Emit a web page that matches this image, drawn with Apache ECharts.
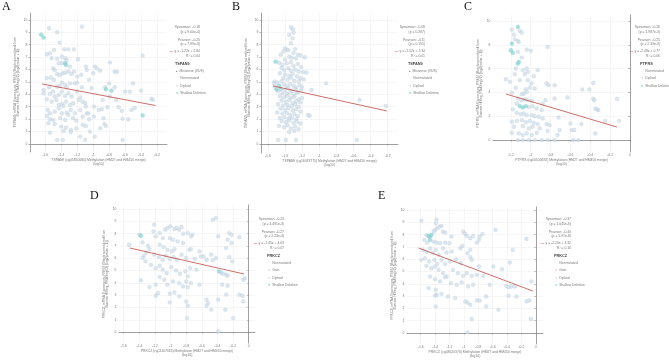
<!DOCTYPE html>
<html>
<head>
<meta charset="utf-8">
<script src="https://cdn.jsdelivr.net/npm/echarts@6/dist/echarts.min.js"></script>
<style>
  html, body { margin: 0; padding: 0; background: #fff; }
  #chart { width: 669px; height: 360px; }
</style>
</head>
<body>
<div id="chart"></div>
<script>
// ---- data ----
const xTicks16 = [-1.6, -1.4, -1.2, -1, -0.8, -0.6, -0.4, -0.2];
const xTicks16z = [-1.6, -1.4, -1.2, -1, -0.8, -0.6, -0.4, -0.2, 0];
const xTicks12 = [-1.2, -1, -0.8, -0.6, -0.4, -0.2, 0];
const yTicks1 = [0, 1, 2, 3, 4, 5, 6, 7, 8, 9, 10];
const yTicks2 = [0, 2, 4, 6, 8, 10];

const pointsA = [[-1.55,9.33],[-1.45,9.01],[-1.14,9.46],[-1.42,8.17],[-1.54,7.31],[-1.58,7.23],[-1.52,6.91],[-1.49,7.58],[-1.45,6.88],[-1.39,7.04],[-1.36,7.63],[-1.31,7.63],[-1.24,7.63],[-1.50,6.10],[-1.48,5.97],[-1.43,6.51],[-1.39,6.51],[-1.35,6.91],[-1.33,6.77],[-1.29,6.24],[-1.24,5.83],[-1.19,6.83],[-1.58,5.30],[-1.53,5.35],[-1.49,5.16],[-1.45,5.65],[-1.42,5.56],[-1.38,5.70],[-1.35,5.75],[-1.31,5.83],[-1.27,5.65],[-1.20,5.43],[-1.15,5.59],[-1.09,6.24],[-1.08,5.97],[-1.62,4.35],[-1.55,4.57],[-1.50,4.22],[-1.45,4.62],[-1.42,4.68],[-1.39,4.95],[-1.35,4.76],[-1.33,4.57],[-1.29,4.89],[-1.23,4.89],[-1.20,4.95],[-1.14,4.57],[-1.54,4.03],[-1.48,3.82],[-1.43,3.95],[-1.39,4.22],[-1.35,3.87],[-1.31,4.09],[-1.27,3.82],[-1.20,4.22],[-1.16,3.76],[-1.62,4.09],[-1.58,3.60],[-1.52,3.41],[-1.46,3.55],[-1.43,3.15],[-1.39,3.23],[-1.37,3.06],[-1.34,3.41],[-1.29,3.15],[-1.25,3.28],[-1.18,3.55],[-1.13,3.41],[-1.10,3.28],[-1.57,2.74],[-1.54,2.47],[-1.48,2.61],[-1.43,2.88],[-1.39,2.47],[-1.33,2.53],[-1.28,2.74],[-1.23,2.47],[-1.16,2.74],[-1.09,3.01],[-1.58,2.26],[-1.54,1.99],[-1.50,1.94],[-1.41,2.07],[-1.35,1.94],[-1.31,2.34],[-1.25,2.07],[-1.21,1.88],[-1.13,2.20],[-1.08,2.47],[-1.56,1.67],[-1.48,1.61],[-1.40,1.40],[-1.34,1.32],[-1.28,1.13],[-1.21,1.26],[-1.13,1.53],[-1.54,0.91],[-1.37,1.05],[-1.28,0.97],[-1.45,0.32],[-1.38,0.32],[-1.10,0.32],[-0.63,0.32],[-0.98,6.24],[-0.95,6.10],[-0.91,5.91],[-1.00,5.70],[-0.79,6.56],[-0.73,5.83],[-0.70,5.83],[-0.80,4.89],[-0.85,4.57],[-0.73,4.57],[-0.50,4.89],[-0.60,4.22],[-0.40,4.30],[-0.38,7.12],[-0.27,3.63],[-0.25,3.55],[-0.79,3.82],[-0.88,3.55],[-0.93,2.74],[-0.99,3.01],[-0.89,2.80],[-0.82,2.96],[-0.68,2.96],[-0.64,2.66],[-0.63,2.04],[-0.56,1.99],[-0.52,2.74],[-0.48,2.90],[-0.87,2.07],[-0.86,1.61],[-0.91,1.26],[-0.99,2.20],[-1.06,2.47],[-1.05,1.99],[-1.09,1.45],[-0.84,1.45],[-0.98,0.59],[-1.04,0.99],[-1.16,0.59],[-0.71,3.55],[-0.54,4.22],[-1.02,4.49],[-1.05,5.16]];
const shallowA = [[-1.65,8.82],[-1.62,8.58],[-1.35,6.51],[-1.34,6.37],[-0.84,4.41],[-0.77,4.30],[-0.38,2.31]];
const regA = [[-1.64,4.84],[-0.22,3.10]];

const pointsB = [[-1.33,9.41],[-1.31,9.25],[-1.30,8.98],[-1.35,8.79],[-1.31,8.52],[-1.33,8.12],[-1.40,7.71],[-1.38,7.60],[-1.42,7.45],[-1.36,7.55],[-1.28,7.65],[-1.30,7.35],[-1.25,7.20],[-1.22,7.15],[-1.45,7.20],[-1.35,7.05],[-1.32,6.95],[-1.27,6.90],[-1.17,6.99],[-1.40,6.80],[-1.47,6.55],[-1.43,6.40],[-1.38,6.50],[-1.33,6.60],[-1.30,6.30],[-1.25,6.45],[-1.21,6.20],[-1.44,6.15],[-1.36,6.10],[-1.41,5.95],[-1.33,5.90],[-1.28,6.00],[-1.24,5.85],[-1.19,5.80],[-1.46,5.70],[-1.40,5.60],[-1.35,5.50],[-1.31,5.65],[-1.26,5.45],[-1.22,5.30],[-1.15,5.75],[-1.42,5.30],[-1.37,5.20],[-1.33,5.35],[-1.29,5.10],[-1.24,5.05],[-1.18,5.20],[-1.52,5.03],[-1.49,4.95],[-1.44,5.05],[-1.41,4.80],[-1.38,4.65],[-1.34,4.85],[-1.30,4.70],[-1.27,4.55],[-1.23,4.75],[-1.20,4.60],[-1.40,4.35],[-1.36,4.50],[-1.32,4.30],[-1.28,4.40],[-1.25,4.20],[-1.21,4.35],[-1.48,4.25],[-1.43,4.10],[-1.38,4.05],[-1.34,4.20],[-1.30,4.00],[-1.26,4.10],[-1.09,4.35],[-1.46,3.85],[-1.41,3.75],[-1.37,3.90],[-1.33,3.70],[-1.29,3.80],[-1.24,3.60],[-1.20,3.70],[-1.44,3.50],[-1.39,3.40],[-1.35,3.55],[-1.31,3.30],[-1.27,3.45],[-1.22,3.35],[-1.48,3.20],[-1.42,3.10],[-1.37,3.15],[-1.32,3.05],[-1.28,3.20],[-1.24,3.00],[-1.45,2.85],[-1.40,2.75],[-1.36,2.90],[-1.31,2.70],[-1.27,2.80],[-1.22,2.60],[-1.49,2.55],[-1.43,2.45],[-1.38,2.50],[-1.34,2.35],[-1.29,2.40],[-1.25,2.25],[-1.13,2.34],[-1.11,2.26],[-1.41,2.15],[-1.36,2.05],[-1.32,2.10],[-1.27,2.00],[-1.46,2.10],[-1.44,1.85],[-1.39,1.75],[-1.35,1.90],[-1.30,1.70],[-1.26,1.80],[-1.22,1.65],[-1.47,1.45],[-1.41,1.35],[-1.37,1.50],[-1.33,1.25],[-1.28,1.40],[-1.24,1.20],[-1.35,0.95],[-1.29,1.05],[-1.48,0.32],[-1.39,0.32],[-1.27,0.32],[-0.56,0.32],[-0.92,4.89],[-0.53,3.55],[-0.22,3.06],[-1.53,4.90],[-1.52,4.60]];
const shallowB = [[-1.51,6.64],[-1.47,4.70],[-1.45,4.45],[-1.50,4.40]];
const regB = [[-1.54,4.68],[-0.21,2.66]];

const pointsC = [[-1.19,9.27],[-1.11,9.16],[-1.09,9.02],[-1.17,8.85],[-1.16,8.46],[-1.13,8.32],[-1.12,8.24],[-1.13,7.40],[-1.04,7.60],[-1.00,7.49],[-0.83,7.82],[-1.09,6.93],[-1.15,6.01],[-1.08,5.87],[-1.04,6.01],[-1.03,5.73],[-0.93,5.87],[-1.16,5.53],[-1.06,5.53],[-0.97,5.36],[-1.25,5.11],[-1.21,4.89],[-1.11,5.03],[-1.03,5.03],[-0.99,4.75],[-0.84,4.75],[-0.82,4.61],[-0.76,4.61],[-0.37,4.80],[-1.15,4.39],[-1.05,4.25],[-1.01,4.41],[-0.96,4.33],[-1.07,3.91],[-1.04,4.05],[-1.19,3.97],[-1.09,3.85],[-0.48,4.25],[-0.41,4.25],[-0.63,3.58],[-0.13,3.46],[-0.76,3.49],[-0.85,3.35],[-0.37,3.46],[-0.36,3.35],[-0.35,2.63],[-0.32,2.51],[-0.33,2.57],[-0.88,3.07],[-1.13,3.49],[-1.09,3.35],[-1.06,3.41],[-1.03,3.35],[-0.99,3.30],[-1.14,3.07],[-1.02,2.79],[-0.98,2.85],[-0.94,2.65],[-1.18,2.57],[-0.89,2.51],[-1.14,2.29],[-1.10,2.18],[-1.07,2.23],[-1.04,2.09],[-0.99,2.09],[-0.96,2.01],[-0.92,1.96],[-0.88,1.82],[-1.19,1.54],[-1.14,1.62],[-1.09,1.68],[-1.05,1.51],[-1.01,1.62],[-0.97,1.45],[-0.93,1.34],[-1.17,1.12],[-1.08,1.17],[-1.02,0.98],[-0.98,1.12],[-0.91,0.98],[-1.19,0.61],[-1.12,0.56],[-1.08,0.42],[-1.04,0.56],[-0.99,0.42],[-0.94,0.61],[-1.13,0],[-1.08,0],[-1.02,0],[-0.96,0],[-0.89,0],[-0.83,0],[-0.76,0],[-0.57,0],[-0.52,0],[-0.81,1.26],[-0.83,0.78],[-0.72,1.90],[-0.60,1.40],[-0.59,0.84],[-0.56,0.84],[-0.49,1.34],[-0.35,0.56],[-0.25,1.62],[-0.11,1.62],[-0.73,0.42],[-0.71,0.84],[-0.84,1.34]];
const shallowC = [[-1.13,9.50],[-1.19,8.10],[-1.20,7.54],[-1.18,7.32],[-1.12,6.56],[-1.13,6.42],[-1.11,2.85],[-1.08,2.74],[-1.05,2.85]];
const regC = [[-1.25,3.87],[-0.13,1.09]];

const pointsD = [[-1.53,7.10],[-1.40,7.91],[-1.36,7.29],[-1.29,7.02],[-1.27,6.75],[-1.31,6.48],[-1.34,6.21],[-1.36,6.02],[-1.32,5.75],[-1.38,4.20],[-1.27,3.66],[-1.21,8.73],[-1.22,8.18],[-1.19,7.78],[-1.14,8.05],[-1.10,7.64],[-1.07,8.32],[-1.04,8.46],[-1.00,8.59],[-0.95,8.37],[-0.92,8.46],[-0.89,8.32],[-0.86,8.54],[-0.84,7.99],[-0.78,8.05],[-0.74,7.78],[-0.72,7.91],[-1.01,7.64],[-0.97,7.51],[-0.91,7.37],[-0.84,7.24],[-1.14,7.10],[-1.09,6.91],[-1.04,6.69],[-0.98,6.56],[-0.95,6.75],[-0.76,6.69],[-0.74,6.75],[-0.63,6.56],[-1.21,6.29],[-1.15,6.10],[-1.10,5.88],[-1.06,6.21],[-1.01,5.94],[-0.96,6.10],[-0.92,5.88],[-0.86,6.29],[-0.80,6.02],[-0.69,5.94],[-0.61,6.15],[-0.54,5.88],[-0.46,5.83],[-1.25,5.47],[-1.19,5.20],[-1.14,5.39],[-1.10,5.07],[-1.05,4.80],[-0.99,5.28],[-0.93,5.01],[-0.88,4.74],[-0.81,4.93],[-0.75,5.20],[-0.67,5.07],[-0.78,4.53],[-1.14,4.47],[-1.08,4.25],[-1.04,3.85],[-0.97,4.12],[-0.89,3.98],[-0.84,3.71],[-0.80,4.12],[-0.74,3.98],[-0.63,3.85],[-1.19,3.85],[-1.16,3.17],[-1.19,2.95],[-1.01,3.12],[-0.95,3.22],[-0.89,2.90],[-1.01,2.41],[-0.78,3.66],[-0.80,2.49],[-0.78,2.14],[-0.79,1.14],[-0.54,2.63],[-0.52,2.36],[-0.54,2.14],[-0.48,1.82],[-0.46,9.13],[-0.42,9.27],[-0.39,7.78],[-0.42,6.02],[-0.35,4.80],[-0.33,4.74],[-0.29,4.66],[-0.27,4.58],[-0.34,3.85],[-0.39,2.63],[-0.29,3.04],[-0.30,1.82],[-0.39,0.05],[-0.27,3.77],[-0.25,8.05],[-0.22,7.91],[-0.27,7.51],[-0.22,7.24],[-0.29,6.83],[-0.25,6.10],[-0.21,5.75],[-0.20,1.14],[-0.12,7.72],[-0.12,3.04],[-0.08,2.95],[-0.07,2.49],[-0.07,4.25],[-0.05,4.39],[-0.58,6.15],[-0.48,6.29]];
const shallowD = [[-1.38,7.83],[-0.38,4.93]];
const regD = [[-1.52,6.83],[-0.06,4.72]];

const pointsE = [[-1.59,9.14],[-1.38,9.24],[-1.39,8.92],[-1.52,7.97],[-1.51,7.35],[-1.42,8.24],[-1.40,8.38],[-1.37,8.51],[-1.34,8.65],[-1.31,8.70],[-1.29,8.24],[-1.26,8.16],[-1.55,7.57],[-1.42,7.43],[-1.38,7.35],[-1.33,7.30],[-1.26,7.35],[-1.20,7.30],[-1.17,7.84],[-1.01,8.24],[-0.98,8.05],[-0.96,7.89],[-0.91,7.70],[-0.87,7.89],[-0.74,8.05],[-0.78,7.84],[-0.79,7.57],[-0.82,7.35],[-0.56,8.38],[-0.13,7.65],[-1.57,6.76],[-1.52,6.62],[-1.47,6.89],[-1.43,6.49],[-1.39,6.76],[-1.35,6.35],[-1.29,6.89],[-1.24,6.54],[-1.17,6.62],[-1.05,6.89],[-1.02,7.08],[-0.91,6.76],[-0.95,6.49],[-0.32,6.76],[-1.59,5.95],[-1.54,6.08],[-1.48,5.81],[-1.41,5.95],[-1.37,5.62],[-1.31,5.95],[-1.26,5.62],[-1.19,5.81],[-1.11,6.00],[-1.04,5.68],[-0.91,6.16],[-0.89,5.95],[-0.79,5.41],[-0.59,5.41],[-0.47,5.19],[-0.36,5.73],[-1.52,5.46],[-1.45,5.27],[-1.40,5.41],[-1.35,5.14],[-1.29,4.86],[-1.24,4.59],[-1.15,5.14],[-1.08,4.86],[-1.01,4.65],[-0.96,4.86],[-0.89,4.65],[-0.82,4.73],[-0.73,4.65],[-1.47,4.59],[-1.40,4.38],[-1.33,4.19],[-1.26,4.54],[-1.18,4.05],[-1.10,3.92],[-1.03,4.11],[-0.94,3.78],[-0.87,3.92],[-0.64,3.92],[-0.41,3.84],[-0.38,3.73],[-0.34,3.78],[-0.29,3.78],[-0.06,4.19],[-1.49,3.65],[-1.39,3.51],[-1.38,3.11],[-1.40,3.03],[-1.31,3.19],[-1.22,2.97],[-1.12,2.84],[-0.98,2.57],[-0.95,2.49],[-0.91,2.30],[-0.82,2.65],[-0.69,2.97],[-0.78,2.65],[-0.69,2.16],[-0.52,1.89],[-0.38,3.03],[-0.27,2.97],[-0.13,2.57],[-0.09,2.65],[-1.39,2.16],[-0.89,1.14],[-0.95,0.05],[-0.07,1.14]];
const shallowE = [[-1.49,7.89],[-1.47,7.84],[-1.45,7.97],[-1.47,7.57]];
const regE = [[-1.63,6.91],[-0.04,3.41]];

const statsA = ['Spearman: -0.18', '(p = 9.00e-4)', 'Pearson: -0.20', '(p = 7.99e-3)', 'y = -1.22x + 2.84', 'R² = 0.04'];
const statsB = ['Spearman: -0.08', '(p = 0.287)', 'Pearson: -0.11', '(p = 0.155)', 'y = -1.52x + 2.34', 'R² = 0.01'];
const statsC = ['Spearman: -0.26', '(p = 1.987e-3)', 'Pearson: -0.25', '(p = 2.33e-3)', 'y = -2.48x + 0.77', 'R² = 0.06'];
const statsD = ['Spearman: -0.23', '(p = 4.491e-3)', 'Pearson: -0.27', '(p = 2.23e-4)', 'y = -1.45x + 4.63', 'R² = 0.07'];
const statsE = ['Spearman: -0.37', '(p = 1.045e-6)', 'Pearson: -0.40', '(p = 5.97e-8)', 'y = -2.20x + 3.32', 'R² = 0.16'];

const itemsTSPAN9 = ['Missense (VUS)', 'Not mutated', 'Diploid', 'Shallow Deletion'];
const itemsPTPRS = ['Not mutated', 'Diploid', 'Shallow Deletion'];
const itemsPRKCZ = ['Not mutated', 'Gain', 'Diploid', 'Shallow Deletion'];

const yNameTSPAN9 = 'TSPAN9, mRNA Expression, RSEM (Batch normalized from\nIllumina HiSeq_RNASeqV2) (log2(value + 1))';
const yNamePTPRS = 'PTPRS, mRNA Expression, RSEM (Batch normalized from\nIllumina HiSeq_RNASeqV2) (log2(value + 1))';
const yNamePRKCZ = 'PRKCZ, mRNA Expression, RSEM (Batch normalized from\nIllumina HiSeq_RNASeqV2) (log2(value + 1))';

// ---- layout ----
const panels = [
  { label: 'A', lx: 2, ly: 1, grid: { left: 30, top: 13, width: 137, height: 139 },
    xr: [-1.79, -0.075], xt: xTicks16, yr: [-0.65, 10.56], yt: yTicks1,
    pts: pointsA, sh: shallowA, reg: regA, stats: statsA, gene: 'TSPAN9', items: itemsTSPAN9,
    xName: 'TSPAN9 (cg05810085) Methylation (HM27 and HM450 merge)\n(log10)', yName: yNameTSPAN9,
    leg: { right: 200, left: 175, top: 27 } },
  { label: 'B', lx: 232, ly: 1, grid: { left: 261, top: 13, width: 137, height: 140 },
    xr: [-1.68, -0.08], xt: xTicks16, yr: [-0.73, 10.56], yt: yTicks1,
    pts: pointsB, sh: shallowB, reg: regB, stats: statsB, gene: 'TSPAN9', items: itemsTSPAN9,
    xName: 'TSPAN9 (cg16033775) Methylation (HM27 and HM450 merge)\n(log10)', yName: yNameTSPAN9,
    leg: { right: 425, left: 408, top: 27 } },
  { label: 'C', lx: 464, ly: 1, grid: { left: 493, top: 15, width: 137, height: 137 },
    xr: [-1.38, 0], xt: xTicks12, yr: [-1.0, 10.5], yt: yTicks2,
    pts: pointsC, sh: shallowC, reg: regC, stats: statsC, gene: 'PTPRS', items: itemsPTPRS,
    xName: 'PTPRS (cg00500692) Methylation (HM27 and HM450 merge)\n(log10)', yName: yNamePTPRS,
    leg: { right: 660, left: 640, top: 27 } },
  { label: 'D', lx: 90, ly: 190, grid: { left: 119, top: 205, width: 136, height: 138 },
    xr: [-1.66, 0.08], xt: xTicks16z, yr: [-0.89, 10.33], yt: yTicks1,
    pts: pointsD, sh: shallowD, reg: regD, stats: statsD, gene: 'PRKCZ', items: itemsPRKCZ,
    xName: 'PRKCZ (cg11107365) Methylation (HM27 and HM450 merge)\n(log10)', yName: yNamePRKCZ,
    leg: { right: 284, left: 267, top: 219 } },
  { label: 'E', lx: 378, ly: 190, grid: { left: 407, top: 207, width: 136, height: 137 },
    xr: [-1.79, 0.10], xt: xTicks16z, yr: [-0.89, 10.24], yt: yTicks1,
    pts: pointsE, sh: shallowE, reg: regE, stats: statsE, gene: 'PRKCZ', items: itemsPRKCZ,
    xName: 'PRKCZ (cg03620376) Methylation (HM27 and HM450 merge)\n(log10)', yName: yNamePRKCZ,
    leg: { right: 571, left: 554, top: 219 } }
];

const FONT = 'Liberation Sans, Arial, sans-serif';
const FS = 3.4;
const TXT = '#7a7a7a';
const symColors = {
  'Missense (VUS)': '#555',
  'Not mutated': 'rgba(255,255,255,0)',
  'Gain': '#f0cccc',
  'Diploid': '#d3dee6',
  'Shallow Deletion': '#8ed3d3'
};

const grids = [], xAxes = [], yAxes = [], series = [], graphics = [];

panels.forEach((p, i) => {
  grids.push(Object.assign({ containLabel: false }, p.grid));
  xAxes.push({
    type: 'value', gridIndex: i, min: p.xr[0], max: p.xr[1],
    name: p.xName, nameLocation: 'middle', nameGap: 6,
    nameTextStyle: { fontSize: FS, color: TXT, fontFamily: FONT, lineHeight: 4 },
    axisLine: { lineStyle: { color: '#8a8a8a', width: 0.8 } },
    axisTick: { customValues: p.xt, length: 1.5, lineStyle: { color: '#8a8a8a', width: 0.6 } },
    axisLabel: { customValues: p.xt, fontSize: FS, color: TXT, margin: 2, fontFamily: FONT,
      formatter: v => String(v) },
    splitLine: { show: true, lineStyle: { color: '#f0f0f0', width: 0.6 } }
  });
  yAxes.push({
    type: 'value', gridIndex: i, min: p.yr[0], max: p.yr[1],
    name: p.yName, nameLocation: 'middle', nameGap: 10, nameRotate: 90,
    nameTextStyle: { fontSize: FS, color: TXT, fontFamily: FONT, lineHeight: 3.5 },
    axisLine: { show: true, lineStyle: { color: '#8a8a8a', width: 0.8 } },
    axisTick: { show: true, customValues: p.yt, length: 1.5, lineStyle: { color: '#8a8a8a', width: 0.6 } },
    axisLabel: { customValues: p.yt, fontSize: FS, color: TXT, margin: 2.5, fontFamily: FONT },
    splitLine: { show: true, lineStyle: { color: '#f0f0f0', width: 0.6 } }
  });
  series.push({
    type: 'scatter', xAxisIndex: i, yAxisIndex: i, data: p.pts, symbolSize: 3.8,
    itemStyle: { color: 'rgba(205,220,231,0.85)', borderColor: 'rgba(180,199,213,0.85)', borderWidth: 0.4 },
    silent: true, animation: false
  });
  series.push({
    type: 'scatter', xAxisIndex: i, yAxisIndex: i, data: p.sh, symbolSize: 3.8,
    itemStyle: { color: 'rgba(142,212,212,0.9)', borderColor: 'rgba(110,195,198,0.9)', borderWidth: 0.4 },
    silent: true, animation: false
  });
  series.push({
    type: 'line', xAxisIndex: i, yAxisIndex: i, data: p.reg, showSymbol: false,
    lineStyle: { color: '#c24a42', width: 0.8 }, silent: true, animation: false
  });

  // panel letter
  graphics.push({ type: 'text', left: p.lx, top: p.ly,
    style: { text: p.label, fontSize: 12, fontFamily: 'Liberation Serif, Times New Roman, serif', fill: '#111' } });

  // stats block
  const off = [0, 5, 13, 17, 24, 29];
  p.stats.forEach((s, k) => {
    const isReg = k === 4;
    graphics.push({ type: 'text', x: p.leg.right, y: p.leg.top + off[k],
      style: {
        text: isReg ? '{l|—} ' + s : s,
        align: 'right', verticalAlign: 'middle', fontSize: FS, fontFamily: FONT, fill: TXT,
        rich: { l: { fill: '#c24a42', fontSize: FS + 0.6, fontWeight: 'bold' } }
      } });
  });
  // gene header
  graphics.push({ type: 'text', x: p.leg.left, y: p.leg.top + 37,
    style: { text: p.gene, verticalAlign: 'middle', fontSize: FS + 0.4, fontWeight: 'bold', fontFamily: FONT, fill: '#444' } });
  // legend items
  p.items.forEach((it, k) => {
    graphics.push({ type: 'text', x: p.leg.left + 1, y: p.leg.top + 44 + k * 7.3,
      style: {
        text: '{s|●}  ' + it, verticalAlign: 'middle', fontSize: FS, fontFamily: FONT, fill: TXT,
        rich: { s: { fill: symColors[it], fontSize: it === 'Missense (VUS)' ? 2.5 : 4 } }
      } });
  });
});

const chart = echarts.init(document.getElementById('chart'), null, { renderer: 'canvas' });
chart.setOption({
  backgroundColor: '#fff',
  animation: false,
  grid: grids,
  xAxis: xAxes,
  yAxis: yAxes,
  series: series,
  graphic: graphics
});
</script>
</body>
</html>
